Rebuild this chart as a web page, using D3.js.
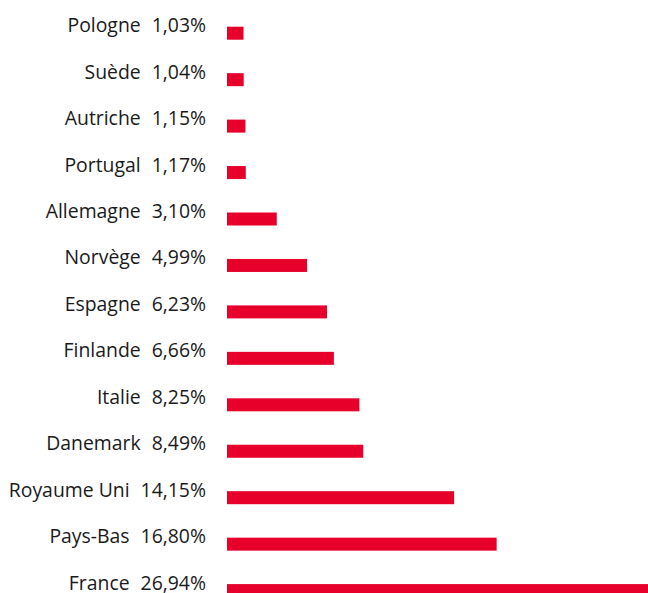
<!DOCTYPE html>
<html lang="fr">
<head>
<meta charset="UTF-8">
<title>Répartition par pays</title>
<style>
  body { margin: 0; background: #fff; }
  .chartBlock { width: 648px; height: 593px; overflow: hidden; }
  .label { font-family: "Open Sans", sans-serif; font-size: 19.4px; fill: #1a1a1a; }
</style>
</head>
<body>
<div class="chartBlock"></div>
<script src="https://d3js.org/d3.v7.min.js"></script>
<script>
  // données
  const countries = ['Pologne', 'Suède', 'Autriche', 'Portugal', 'Allemagne', 'Norvège', 'Espagne',
                     'Finlande', 'Italie', 'Danemark', 'Royaume Uni', 'Pays-Bas', 'France'];
  const weights = [1.03, 1.04, 1.15, 1.17, 3.10, 4.99, 6.23, 6.66, 8.25, 8.49, 14.15, 16.80, 26.94];

  const data = countries.map((c, i) => ({ country: c, value: weights[i] }));

  const width = 648, height = 593;
  const x0 = 227;       // début des barres
  const pxPerPct = 16.05;

  const svg = d3.select('.chartBlock')
                .append('svg')
                .attr('width', width)
                .attr('height', height);

  const xScale = d3.scaleLinear()
                   .domain([0, 30])
                   .range([x0, x0 + 30 * pxPerPct]);

  const yScale = d3.scaleBand()
                   .domain(countries)
                   .range([26.7, 597.1])
                   .paddingInner(0.72)
                   .paddingOuter(0);

  // barres
  svg.append('g')
     .selectAll('rect')
     .data(data)
     .join('rect')
     .attr('x', xScale(0))
     .attr('y', d => yScale(d.country))
     .attr('width', d => xScale(d.value) - xScale(0))
     .attr('height', yScale.bandwidth())
     .attr('fill', '#e6002a');

  // libellés : pays + pourcentage
  const fmt = v => v.toFixed(2).replace('.', ',') + '%';

  const labels = svg.append('g')
     .selectAll('text')
     .data(data)
     .join('text')
     .attr('class', 'label')
     .attr('x', 206)
     .attr('y', d => yScale(d.country) + yScale.bandwidth() / 2 - 1)
     .attr('text-anchor', 'end');

  labels.append('tspan').text(d => d.country);
  labels.append('tspan').attr('dx', 11).text(d => fmt(d.value));
</script>
</body>
</html>
